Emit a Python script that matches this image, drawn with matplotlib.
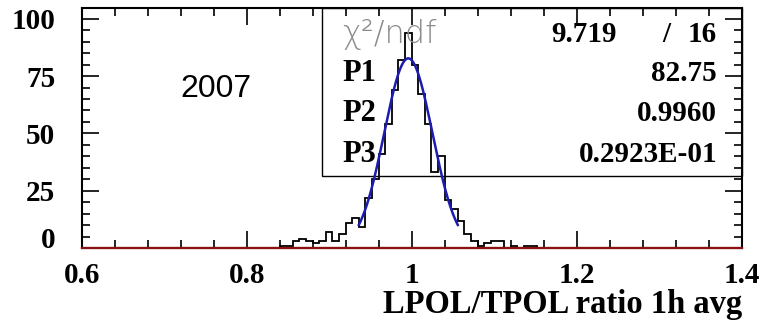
import numpy as np
import matplotlib.pyplot as plt
from matplotlib.patches import Rectangle
from matplotlib.ticker import MultipleLocator

# histogram: 100 bins from 0.6 to 1.4
bin_lo, bin_hi, n_bins = 0.6, 1.4, 100
counts = ([0] * 30 +
          [1, 1, 3, 4, 3, 2, 3, 7, 3, 6,
           11, 13, 9, 22, 30, 41, 54, 69, 82, 94,
           80, 67, 54, 33, 40, 21, 17, 12, 6, 3,
           1, 2, 3, 3, 0, 1, 0, 1, 1] +
          [0] * 31)

# gaussian fit shown in the stats box
p1, p2, p3 = 82.75, 0.9960, 0.02923
fit_lo, fit_hi = 0.936, 1.056
chi2, ndf = "9.719", "16"
par_names = ["P1", "P2", "P3"]
par_texts = ["82.75", "0.9960", "0.2923E-01"]
year = "2007"
xtitle = "LPOL/TPOL ratio 1h avg"
xticks = [0.6, 0.8, 1.0, 1.2, 1.4]
xtick_labels = ["0.6", "0.8", "1", "1.2", "1.4"]
yticks = [0, 25, 50, 75, 100]

serif = ["Liberation Serif", "DejaVu Serif"]

fig = plt.figure(figsize=(7.65, 3.22), dpi=100)
ax = fig.add_axes([0.1068, 0.2298, 0.8625, 0.7452])

edges = np.linspace(bin_lo, bin_hi, n_bins + 1)
ax.stairs(counts, edges, color="black", lw=1.3, zorder=3)

xf = np.linspace(fit_lo, fit_hi, 200)
ax.plot(xf, p1 * np.exp(-0.5 * ((xf - p2) / p3) ** 2), color="#1c1cb0", lw=1.8, zorder=4)

ax.axhline(0, color="#8b1010", lw=1.6, zorder=5, clip_on=False)

ax.set_xlim(bin_lo, bin_hi)
ax.set_ylim(0, 104.7)

ax.set_xticks(xticks, xtick_labels)
ax.set_yticks(yticks, [str(v) for v in yticks])
ax.xaxis.set_minor_locator(MultipleLocator(0.04))
ax.yaxis.set_minor_locator(MultipleLocator(5))
ax.tick_params(which="both", direction="in", top=True, right=True, width=1.2)
ax.tick_params(which="major", length=12)
ax.tick_params(which="minor", length=6)
ax.tick_params(axis="x", pad=10)
ax.tick_params(axis="y", pad=19)
for lab in ax.get_xticklabels() + ax.get_yticklabels():
    lab.set_family(serif)
    lab.set_fontweight("bold")
    lab.set_fontsize(21)
ax.get_yticklabels()[0].set_verticalalignment("baseline")
for s in ax.spines.values():
    s.set_linewidth(1.5)

# stats box
box_x, box_y = 0.891, 31.4
ax.add_patch(Rectangle((box_x, box_y), bin_hi - box_x, 104.7 - box_y,
                       fill=False, ec="black", lw=1.0, zorder=2, clip_on=False))
left_x, right_x = 0.9163, 1.3703
ax.text(left_x, 93, "χ²/ndf", fontsize=23, color="#8c8c8c", fontweight="light",
        family=["DejaVu Sans"], va="center", ha="left")
ax.text(1.2493, 93, chi2, fontsize=21, fontweight="bold", family=serif, va="center", ha="right")
ax.text(1.3086, 93, "/", fontsize=21, fontweight="bold", family=serif, va="center", ha="center")
ax.text(right_x, 93, ndf, fontsize=21, fontweight="bold", family=serif, va="center", ha="right")
rows_y = [76.0, 58.5, 41.0]
for name, val, yy in zip(par_names, par_texts, rows_y):
    ax.text(left_x, yy, name, fontsize=22, fontweight="bold", family=serif, va="center", ha="left")
    ax.text(right_x, yy, val, fontsize=21, fontweight="bold", family=serif, va="center", ha="right")

ax.text(0.72, 69.5, year, fontsize=23, family=["Liberation Sans", "DejaVu Sans"], va="center", ha="left")

fig.text(742 / 765, 1 - 305 / 322, xtitle, fontsize=23.5, fontweight="bold", family=serif,
         ha="right", va="center")

fig.savefig("out.png", dpi=100)
